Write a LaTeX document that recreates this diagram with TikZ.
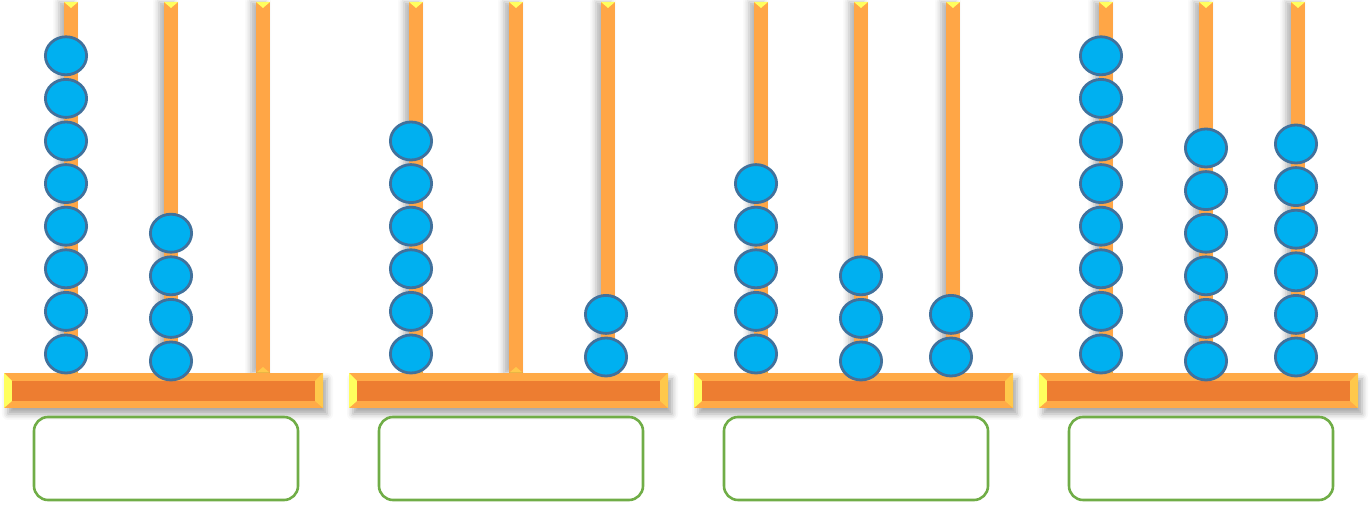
\documentclass[tikz,border=0pt]{standalone}
\usetikzlibrary{shapes.geometric,shadows.blur}
\definecolor{rodorange}{HTML}{FFA646}
\definecolor{basedark}{HTML}{ED7D31}
\definecolor{baselight}{HTML}{FFAA47}
\definecolor{bevelyellow}{HTML}{FFFF5E}
\definecolor{bevelgold}{HTML}{FFC84B}
\definecolor{beadblue}{HTML}{00B0F0}
\definecolor{beadedge}{HTML}{41719C}
\definecolor{boxgreen}{HTML}{70AD47}
% one column of beads: name, count, x, y of the lowest bead
\newcommand{\beadcolumn}[4]{%
  \ifnum#2>0
    \foreach \k in {1,...,#2}
      \node[bead] (#1-\k) at (#3, #4-42.6*\k+42.6) {};
  \fi}
\begin{document}
\begin{tikzpicture}[x=0.5pt, y=-0.5pt,
  rod/.style={fill=rodorange, blur shadow={shadow xshift=-2.5pt, shadow yshift=0pt, shadow blur radius=3pt, shadow opacity=30}},
  bead/.style={ellipse, draw=beadedge, fill=beadblue, line width=1.4pt, minimum width=20.6pt, minimum height=19pt, inner sep=0pt},
  answerbox/.style={draw=boxgreen, line width=1.3pt, rounded corners=7pt, minimum width=132pt, minimum height=41.5pt, inner sep=0pt}]
\useasboundingbox (0,0) rectangle (1372,506);
\foreach \n/\p/\q [count=\a] in {8/4/0, 6/0/2, 5/3/2, 8/6/6} {
  \begin{scope}[shift={(345*\a-341,0)}]
    % Rods
    \foreach \r in {67,167,259} {
      \fill[rod] (\r-7,2) rectangle (\r+7,373);
      \fill[bevelyellow] (\r-7,2) -- (\r+7,2) -- (\r,8) -- cycle;
      \fill[bevelgold] (\r-7,373) -- (\r+7,373) -- (\r,367) -- cycle;
    }
    % Base
    \fill[baselight, blur shadow={shadow xshift=2pt, shadow yshift=-3pt, shadow blur radius=3pt, shadow opacity=35}] (0,373) rectangle (319,408);
    \fill[bevelyellow] (0,373) -- (8,381) -- (8,401) -- (0,408) -- cycle;
    \fill[bevelgold] (319,373) -- (311,381) -- (311,401) -- (319,408) -- cycle;
    \fill[basedark] (8,381) rectangle (311,401);
    % Beads
    \beadcolumn{b\a-1}{\n}{62}{354}
    \beadcolumn{b\a-2}{\p}{167}{361}
    \beadcolumn{b\a-3}{\q}{257}{357}
    % Answer box
    \node[answerbox] (box\a) at (162,458.5) {};
  \end{scope}
}
\end{tikzpicture}
\end{document}
